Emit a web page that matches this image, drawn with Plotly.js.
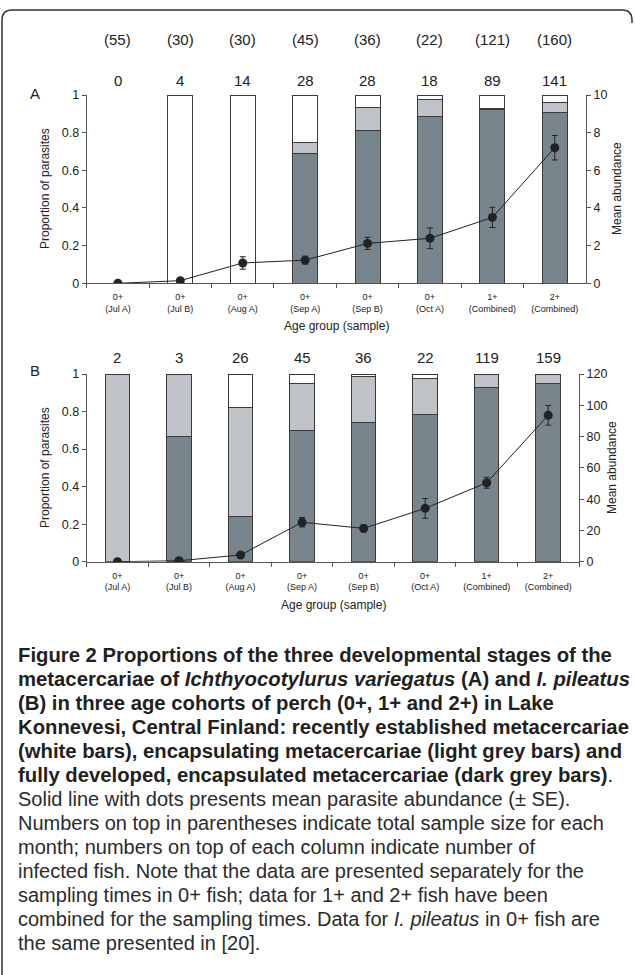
<!DOCTYPE html>
<html>
<head>
<meta charset="utf-8">
<script src="https://cdn.plot.ly/plotly-3.0.1.min.js"></script>
<style>html,body{margin:0;padding:0;background:#fff;}#chart{width:635px;height:975px;}</style>
</head>
<body>
<div id="chart"></div>
<script>
// ---- data ----
const categories = ["0+<br>(Jul A)", "0+<br>(Jul B)", "0+<br>(Aug A)", "0+<br>(Sep A)", "0+<br>(Sep B)", "0+<br>(Oct A)", "1+<br>(Combined)", "2+<br>(Combined)"];
const sampleSize = [55, 30, 30, 45, 36, 22, 121, 160];
const infectedA = [0, 4, 14, 28, 28, 18, 89, 141];
const infectedB = [2, 3, 26, 45, 36, 22, 119, 159];

// Panel A: I. variegatus proportions
const darkA  = [0, 0, 0, 0.69, 0.81, 0.885, 0.922, 0.906];
const lightA = [0, 0, 0, 0.057, 0.124, 0.092, 0.006, 0.055];
const whiteA = [0, 1, 1, 0.253, 0.066, 0.023, 0.072, 0.039];
const meanA  = [0, 0.14, 1.08, 1.23, 2.12, 2.39, 3.5, 7.2];
const seA    = [0, 0, 0.33, 0.21, 0.32, 0.55, 0.54, 0.65];

// Panel B: I. pileatus proportions
const darkB  = [0, 0.667, 0.243, 0.70, 0.74, 0.785, 0.929, 0.947];
const lightB = [1, 0.333, 0.579, 0.25, 0.246, 0.192, 0.067, 0.049];
const whiteB = [0, 0, 0.178, 0.05, 0.014, 0.023, 0.004, 0.004];
const meanB  = [0, 0.6, 4.3, 25.2, 21.3, 34.1, 50.5, 93.6];
const seB    = [0, 0, 0, 3, 2.3, 6.3, 3.5, 6.3];

const captionLines = [
  "<b>Figure 2 Proportions of the three developmental stages of the</b>",
  "<b>metacercariae of <i>Ichthyocotylurus variegatus</i> (A) and <i>I. pileatus</i></b>",
  "<b>(B) in three age cohorts of perch (0+, 1+ and 2+) in Lake</b>",
  "<b>Konnevesi, Central Finland: recently established metacercariae</b>",
  "<b>(white bars), encapsulating metacercariae (light grey bars) and</b>",
  "<b>fully developed, encapsulated metacercariae (dark grey bars)</b>.",
  "Solid line with dots presents mean parasite abundance (± SE).",
  "Numbers on top in parentheses indicate total sample size for each",
  "month; numbers on top of each column indicate number of",
  "infected fish. Note that the data are presented separately for the",
  "sampling times in 0+ fish; data for 1+ and 2+ fish have been",
  "combined for the sampling times. Data for <i>I. pileatus</i> in 0+ fish are",
  "the same presented in [20]."
];

// ---- styling ----
const W = 635, H = 975;
const px = x => x / W;
const py = y => 1 - y / H;
const DARK = '#78858d', LIGHT = '#bfc2c6', WHITE = '#ffffff';
const EDGE = '#3a3a3a', AX = '#555555', INK = '#222222';
const nz = arr => arr.map(v => (v ? v : null));

function barTrace(vals, color, xa, ya) {
  return {type: 'bar', x: categories, y: nz(vals), xaxis: xa, yaxis: ya, width: 0.4,
    marker: {color: color, line: {color: EDGE, width: 1}}, hoverinfo: 'skip'};
}
function lineTrace(vals, se, xa, ya) {
  return {type: 'scatter', mode: 'lines+markers', x: categories, y: vals, xaxis: xa, yaxis: ya,
    line: {color: INK, width: 1}, marker: {color: INK, size: 9},
    error_y: {type: 'data', array: se, visible: true, color: INK, thickness: 1, width: 3}};
}

const data = [
  barTrace(darkA, DARK, 'x', 'y'), barTrace(lightA, LIGHT, 'x', 'y'), barTrace(whiteA, WHITE, 'x', 'y'),
  lineTrace(meanA, seA, 'x', 'y2'),
  barTrace(darkB, DARK, 'x3', 'y3'), barTrace(lightB, LIGHT, 'x3', 'y3'), barTrace(whiteB, WHITE, 'x3', 'y3'),
  lineTrace(meanB, seB, 'x3', 'y4')
];

const xBase = {type: 'category', range: [-0.5, 7.5], tickson: 'boundaries', ticks: 'outside', ticklen: 4,
  tickcolor: AX, showline: true, linecolor: AX, linewidth: 1, showgrid: false, zeroline: false,
  ticklabelstandoff: 5, tickfont: {size: 9, color: INK}, fixedrange: true};
const yBase = {ticks: 'outside', ticklen: 4, tickcolor: AX, showline: true, linecolor: AX, linewidth: 1,
  showgrid: false, zeroline: false, tickfont: {size: 12.5, color: INK}, fixedrange: true};

const annotations = [];
function addCounts(vals, yPix, xa, wrap) {
  vals.forEach((v, i) => annotations.push({xref: xa, yref: 'paper', x: i, y: py(yPix),
    text: wrap ? '(' + v + ')' : String(v), showarrow: false, font: {size: 15, color: INK},
    xanchor: 'center', yanchor: 'middle'}));
}
addCounts(sampleSize, 39, 'x', true);
addCounts(infectedA, 80, 'x', false);
addCounts(infectedB, 357, 'x3', false);

function txt(text, x, y, opts) {
  annotations.push(Object.assign({xref: 'paper', yref: 'paper', x: px(x), y: py(y), text: text,
    showarrow: false, xanchor: 'center', yanchor: 'middle', font: {size: 12, color: INK}}, opts || {}));
}
txt('A', 35, 93, {font: {size: 15, color: INK}});
txt('B', 35, 370, {font: {size: 15, color: INK}});
txt('Proportion of parasites', 45, 189, {textangle: -90});
txt('Proportion of parasites', 45, 468, {textangle: -90});
txt('Mean abundance', 617, 189, {textangle: -90});
txt('Mean abundance', 612, 468, {textangle: -90});
txt('Age group (sample)', 336, 326);
txt('Age group (sample)', 333, 605);

captionLines.forEach((line, i) => {
  const bold = i < 6;
  annotations.push({xref: 'paper', yref: 'paper', x: px(16), y: py(655 + 24 * i), text: line,
    showarrow: false, xanchor: 'left', yanchor: 'middle', align: 'left',
    font: {family: 'Liberation Sans, Arial, sans-serif', size: bold ? 20.3 : 20, color: bold ? '#231f20' : '#2b2b2b'}});
});

const framePath = 'M ' + px(2) + ',' + py(975) + ' L ' + px(2) + ',' + py(20) +
  ' Q ' + px(2) + ',' + py(10) + ' ' + px(12) + ',' + py(10) +
  ' L ' + px(622) + ',' + py(10) +
  ' Q ' + px(632) + ',' + py(10) + ' ' + px(632) + ',' + py(20) +
  ' L ' + px(632) + ',' + py(23);

const layout = {
  width: W, height: H, margin: {l: 0, r: 0, t: 0, b: 0},
  paper_bgcolor: '#ffffff', plot_bgcolor: 'rgba(0,0,0,0)', showlegend: false, barmode: 'stack',
  font: {family: 'Liberation Sans, Arial, sans-serif', color: INK},
  xaxis: Object.assign({}, xBase, {domain: [px(86.7), px(586)], anchor: 'y'}),
  yaxis: Object.assign({}, yBase, {domain: [py(283.3), py(95)], anchor: 'x', range: [0, 1], dtick: 0.2}),
  yaxis2: Object.assign({}, yBase, {overlaying: 'y', side: 'right', anchor: 'x', range: [0, 10], dtick: 2}),
  xaxis3: Object.assign({}, xBase, {domain: [px(86.7), px(579)], anchor: 'y3'}),
  yaxis3: Object.assign({}, yBase, {domain: [py(561.7), py(374)], anchor: 'x3', range: [0, 1], dtick: 0.2}),
  yaxis4: Object.assign({}, yBase, {overlaying: 'y3', side: 'right', anchor: 'x3', range: [0, 120], dtick: 20}),
  annotations: annotations,
  shapes: [{type: 'path', xref: 'paper', yref: 'paper', path: framePath, line: {color: '#333', width: 1.5}}]
};

Plotly.newPlot('chart', data, layout, {displayModeBar: false, staticPlot: true});
</script>
</body>
</html>
